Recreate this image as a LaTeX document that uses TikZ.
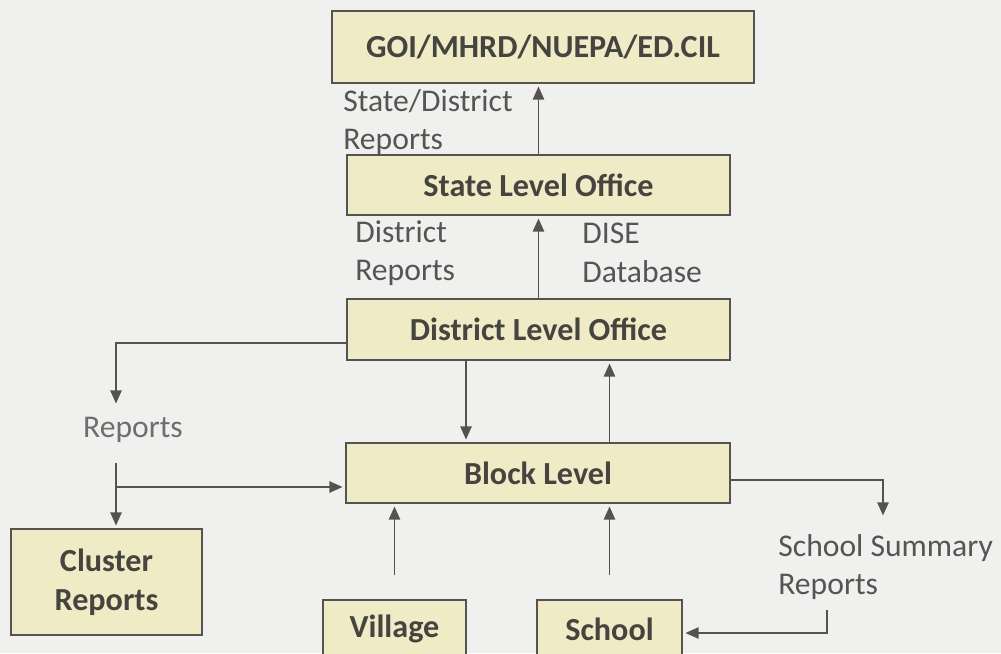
\documentclass[tikz,border=0pt]{standalone}
\usepackage{fontspec}
\setmainfont{Carlito}
\usetikzlibrary{arrows.meta}
\definecolor{bgc}{HTML}{F0F0EF}
\definecolor{boxc}{HTML}{EEEBC5}
\definecolor{edgec}{HTML}{555350}
\definecolor{txtc}{HTML}{454440}
\definecolor{labc}{HTML}{555555}
\definecolor{lightc}{HTML}{6E6E6E}

\begin{document}
\begin{tikzpicture}[x=0.02cm,y=-0.02cm]
  \tikzset{lvl/.style={draw=edgec,line width=1.1pt,fill=boxc,inner sep=0pt,outer sep=0pt,
                       text=txtc,font=\fontsize{18.3}{22}\selectfont\bfseries,align=center},
           lab/.style={text=labc,inner sep=0pt,align=left,font=\fontsize{18}{22}\selectfont},
           arr/.style={draw=edgec,line width=0.85pt,-{Triangle[width=6.5pt,length=7.5pt]},shorten >=2pt}}
  \path[use as bounding box,fill=bgc] (0,0) rectangle (1001,653);
  \clip (0,0) rectangle (1001,653);

  \node[lvl,minimum width=8.44cm,minimum height=1.44cm] (GOI)   at (543,47)    {GOI/MHRD/NUEPA/ED.CIL};
  \node[lvl,minimum width=7.66cm,minimum height=1.2cm]  (State) at (538.5,185) {State Level Office};
  \node[lvl,minimum width=7.66cm,minimum height=1.22cm] (Dist)  at (538.5,329.5) {District Level Office};
  \node[lvl,minimum width=7.68cm,minimum height=1.2cm]  (Block) at (538,473)   {Block Level};
  \node[lvl,minimum width=3.82cm,minimum height=2.12cm] (Clus)  at (106.5,582) {Cluster\\Reports};
  \node[lvl,minimum width=2.86cm,minimum height=1.16cm] (Vill)  at (394.5,629) {Village};
  \node[lvl,minimum width=2.9cm,minimum height=1.16cm]  (Sch)   at (609.5,629) {School};

  \node[lab,anchor=west] (StRep)  at (343,122) {State/District\\Reports};
  \node[lab,anchor=west] (DiRep)  at (355,253) {District\\Reports};
  \node[lab,anchor=west] (DISE)   at (582,253) {DISE\\Database};
  \node[lab,text=lightc] (RepL)   at (133,430) {Reports};
  \node[lab,anchor=west] (SchSum) at (778,567) {School Summary\\Reports};

  \coordinate (dn)    at (466,0);
  \coordinate (lbend) at (116,343);
  \coordinate (ltip)  at (116,407);
  \coordinate (lbot)  at (116,463);
  \coordinate (lbr)   at (116,487);
  \coordinate (rbend) at (883,480);
  \coordinate (rtip)  at (883,519);
  \coordinate (sbot)  at (827,610);
  \coordinate (sleft) at (827,633);

  \draw[arr] (State.north) -- (GOI.south -| State.north);
  \draw[arr] (Dist.north) -- (State.south);
  \draw[arr] (Dist.south -| dn) -- (Block.north -| dn);
  \draw[arr] (Block.north -| Sch) -- (Dist.south -| Sch);
  \draw[arr,shorten <=14pt] (Vill.north) -- (Block.south -| Vill.north);
  \draw[arr,shorten <=14pt] (Sch.north) -- (Block.south -| Sch.north);
  \draw[arr] (Dist.west |- lbend) -- (lbend) -- (ltip);
  \draw[arr] (lbot) -- (Clus.north -| lbot);
  \draw[arr] (lbr) -- (Block.west |- lbr);
  \draw[arr] (Block.east |- rbend) -- (rbend) -- (rtip);
  \draw[arr] (sbot) -- (sleft) -- (Sch.east |- sleft);
\end{tikzpicture}
\end{document}
